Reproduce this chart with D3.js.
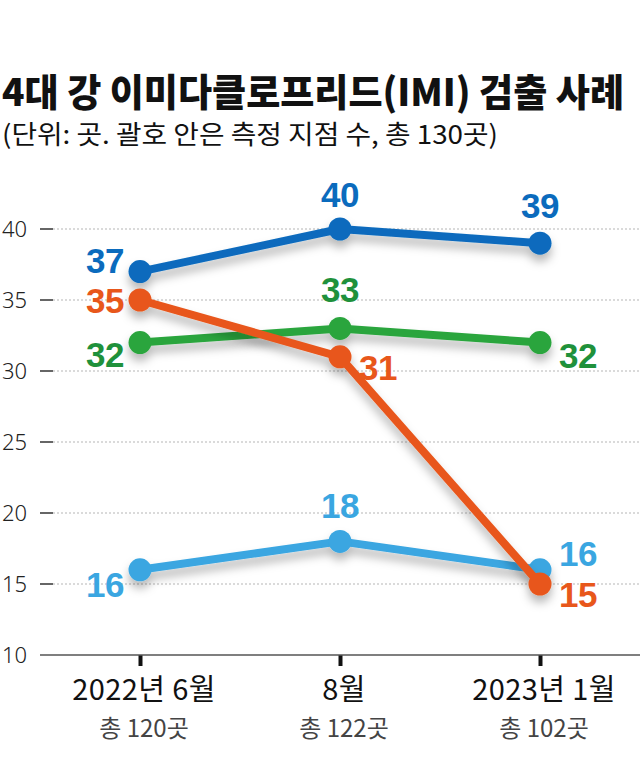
<!DOCTYPE html>
<html><head><meta charset="utf-8">
<script src="https://cdn.jsdelivr.net/npm/d3@7/dist/d3.min.js"></script>
<style>
html,body{margin:0;padding:0;background:#fff;}
svg{display:block;font-family:"Noto Sans CJK KR","Noto Sans",sans-serif;}
</style></head>
<body>
<svg id="chart" width="640" height="770"></svg>
<script>
const categories = ["2022년 6월", "8월", "2023년 1월"];
const subLabels = ["총 120곳", "총 122곳", "총 102곳"];
const yTicks = [10, 15, 20, 25, 30, 35, 40];
const seriesNames = ["lightblue", "green", "blue", "orange"];
const lightBlueValues = [16, 18, 16];
const greenValues = [32, 33, 32];
const blueValues = [37, 40, 39];
const orangeValues = [35, 31, 15];
const titleText = "4대 강 이미다클로프리드(IMI) 검출 사례";
const subtitleText = "(단위: 곳. 괄호 안은 측정 지점 수, 총 130곳)";

const series = [
  {name: "lightblue", values: lightBlueValues, color: "#3aa6e1", label: "#3aa6e1",
   pos: [["left", 27], ["above", -23], ["right", -4]]},
  {name: "green", values: greenValues, color: "#2aa53d", label: "#1f913b",
   pos: [["left", 24], ["above", -26], ["right", 25]]},
  {name: "blue", values: blueValues, color: "#0b6bbd", label: "#0b6bbd",
   pos: [["left", 1], ["above", -22], ["above", -25]]},
  {name: "orange", values: orangeValues, color: "#e8571b", label: "#e8571b",
   pos: [["left", 13], ["right", 23], ["right", 23]]}
];

const svg = d3.select("#chart");
const y = d3.scaleLinear().domain([10, 40]).range([655, 229]);
const x = d3.scalePoint().domain(categories).range([140, 540]);

const defs = svg.append("defs");
const f = defs.append("filter").attr("id", "shadow").attr("x", "-20%").attr("y", "-20%").attr("width", "140%").attr("height", "160%");
f.append("feDropShadow").attr("dx", 0).attr("dy", 7).attr("stdDeviation", 5)
  .attr("flood-color", "#000").attr("flood-opacity", 0.28);

// title
svg.append("text").attr("x", 2).attr("y", 106)
  .attr("font-size", 38).attr("font-weight", 900).attr("fill", "#111")
  .attr("textLength", 622).attr("lengthAdjust", "spacingAndGlyphs")
  .text(titleText);
svg.append("text").attr("x", 2).attr("y", 144)
  .attr("font-size", 26).attr("font-weight", 400).attr("fill", "#111")
  .attr("textLength", 496).attr("lengthAdjust", "spacingAndGlyphs")
  .text(subtitleText);

// grid
const grid = svg.append("g");
yTicks.filter(t => t > 10).forEach(t => {
  grid.append("line").attr("x1", 53).attr("x2", 640).attr("y1", y(t)).attr("y2", y(t))
    .attr("stroke", "#b5b5b5").attr("stroke-width", 1).attr("stroke-dasharray", "2,2");
  grid.append("line").attr("x1", 40).attr("x2", 53).attr("y1", y(t)).attr("y2", y(t))
    .attr("stroke", "#333").attr("stroke-width", 1.5);
});
yTicks.forEach(t => {
  grid.append("text").attr("x", 27).attr("y", y(t)).attr("dy", "0.36em")
    .attr("text-anchor", "end").attr("font-size", 22).attr("fill", "#222")
    .attr("font-family", "'Noto Sans', sans-serif").attr("font-weight", 300)
    .text(t);
});

// x axis
const xAxis = d3.axisBottom(x).tickSize(11).tickFormat("");
const gx = svg.append("g").attr("transform", `translate(0,${y(10)})`).call(xAxis);
gx.select(".domain").remove();
gx.selectAll(".tick line").attr("stroke", "#111").attr("stroke-width", 4);
svg.append("line").attr("x1", 40).attr("x2", 640).attr("y1", y(10)).attr("y2", y(10))
  .attr("stroke", "#555").attr("stroke-width", 1.5);
categories.forEach((c, i) => {
  svg.append("text").attr("x", x(c) + 4).attr("y", 700).attr("text-anchor", "middle")
    .attr("font-size", 29).attr("fill", "#111").attr("letter-spacing", "0.4")
    .text(c);
  svg.append("text").attr("x", x(c) + 4).attr("y", 737).attr("text-anchor", "middle")
    .attr("font-size", 24).attr("fill", "#444").attr("letter-spacing", "0")
    .text(subLabels[i]);
});

// lines
const line = d3.line().x((d, i) => x(categories[i])).y(d => y(d));
series.forEach(s => {
  const g = svg.append("g").attr("filter", "url(#shadow)");
  g.append("path").datum(s.values).attr("d", line).attr("fill", "none")
    .attr("stroke", s.color).attr("stroke-width", 8).attr("stroke-linejoin", "round");
  g.selectAll("circle").data(s.values).join("circle")
    .attr("cx", (d, i) => x(categories[i])).attr("cy", d => y(d)).attr("r", 11.5)
    .attr("fill", s.color);
});

// labels
series.forEach(s => {
  s.values.forEach((v, i) => {
    const [p, dy] = s.pos[i];
    const cx = x(categories[i]), cy = y(v);
    let tx = cx, anchor = "middle";
    if (p === "left") { tx = cx - 16; anchor = "end"; }
    if (p === "right") { tx = cx + 19; anchor = "start"; }
    svg.append("text").attr("x", tx).attr("y", cy + dy).attr("text-anchor", anchor)
      .attr("font-size", 35).attr("font-weight", 700).attr("fill", s.label)
      .attr("font-family", "'Liberation Sans', Arial, sans-serif").attr("letter-spacing", "-0.5")
      .text(v);
  });
});
</script>
</body></html>
